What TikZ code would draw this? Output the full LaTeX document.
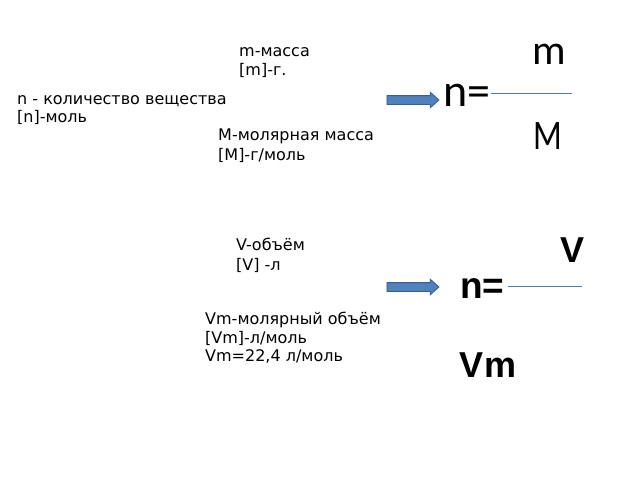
\documentclass[tikz,border=0pt]{standalone}
\usepackage{fontspec}
\setmainfont{DejaVu Sans}
\newfontfamily\carl{Carlito}
\newfontfamily\arl{Liberation Sans}
\usetikzlibrary{shapes.arrows}
\definecolor{arrfill}{HTML}{4F81BD}
\definecolor{arrdraw}{HTML}{385D8A}
\definecolor{fracline}{HTML}{4A7EBB}
\tikzset{
  lbl/.style={anchor=base west, inner sep=0pt, font=\fontsize{16}{19}\selectfont},
  bigc/.style={anchor=base, inner sep=0pt, font=\carl\fontsize{40}{44}\selectfont},
  bigb/.style={anchor=base, inner sep=0pt, font=\arl\bfseries\fontsize{36}{40}\selectfont},
  blockarrow/.style={single arrow, fill=arrfill, draw=arrdraw, line width=0.8pt,
    minimum height=52pt, inner xsep=0pt, inner ysep=4pt,
    single arrow head extend=3.5pt, single arrow tip angle=84},
  frac/.style={draw=fracline, line width=0.8pt}
}
\begin{document}
\begin{tikzpicture}[x=1pt,y=-1pt]
\useasboundingbox (0,0) rectangle (640,480);
% upper group
\node[lbl] (m1) at (239,56) {m-масса};
\node[lbl] (m2) at (239,75) {[m]-г.};
\node[lbl] (n1) at (17,104) {n - количество вещества};
\node[lbl] (n2) at (17,122) {[n]-моль};
\node[lbl] (M1) at (218,140) {M-молярная масса};
\node[lbl] (M2) at (218,160) {[M]-г/моль};
\node[blockarrow] (a1) at (410.5,100) {};
\node[anchor=base west, inner sep=0pt, font=\carl\fontsize{46}{50}\selectfont] (neq1) at (443,106) {n=};
\coordinate (f1e) at (572,93);
\draw[frac] ([xshift=1pt]neq1.east |- f1e) -- (f1e);
\node[bigc, font=\carl\fontsize{42}{46}\selectfont] (num1) at (549,64) {m};
\node[bigc, font=\carl\fontsize{42}{46}\selectfont, xscale=0.8] (den1) at (548,149) {M};
% lower group
\node[lbl] (v1) at (236,250) {V-объём};
\node[lbl] (v2) at (236,270) {[V] -л};
\node[lbl] (vm1) at (205,324) {Vm-молярный объём};
\node[lbl] (vm2) at (205,343) {[Vm]-л/моль};
\node[lbl] (vm3) at (205,361) {Vm=22,4 л/моль};
\node[blockarrow] (a2) at (410.5,287) {};
\node[anchor=base west, inner sep=0pt, font=\arl\bfseries\fontsize{37}{40}\selectfont] (neq2) at (460,298) {n=};
\coordinate (f2e) at (582,286);
\draw[frac] ([xshift=3pt]neq2.east |- f2e) -- (f2e);
\node[bigb] (num2) at (573,262) {V};
\node[bigb] (den2) at (488,377) {Vm};
\end{tikzpicture}
\end{document}
